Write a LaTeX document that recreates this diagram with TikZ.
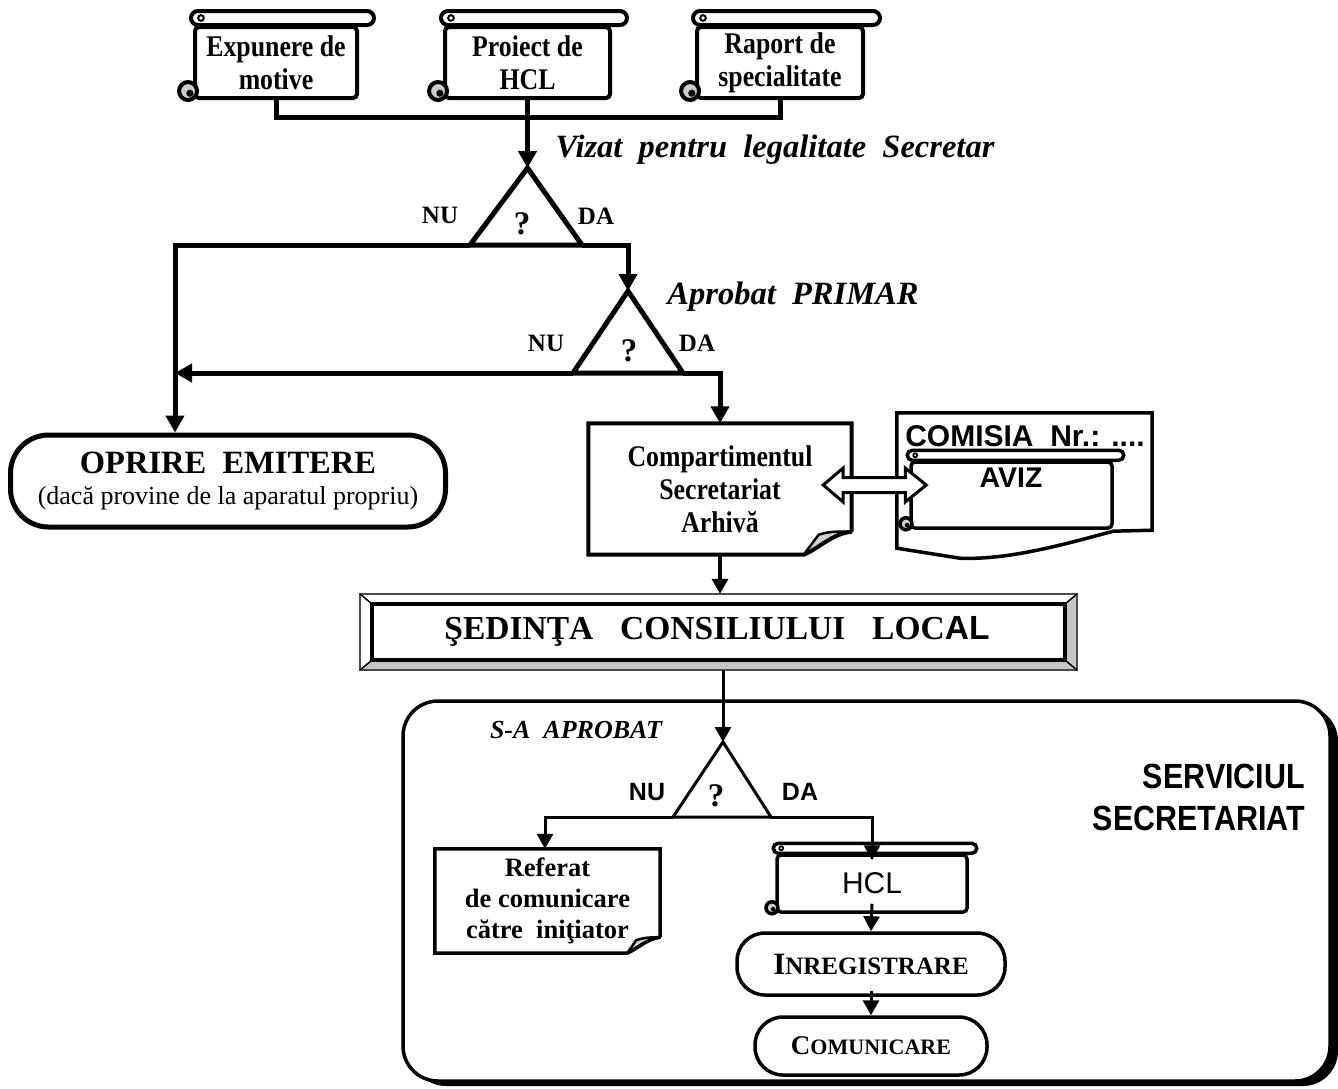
\documentclass[tikz,border=0pt]{standalone}
\usepackage{fontspec}
\setmainfont{Liberation Serif}
\newfontfamily\arialfont{Liberation Sans}
\newfontfamily\narrowserif{Liberation Serif}[FakeStretch=0.86]
\newfontfamily\narrowsans{Liberation Sans}[FakeStretch=0.87]
\usetikzlibrary{arrows.meta,calc,shadows}

% roll on top and curl at the lower left of a scroll-shaped node
% #1 node, #2 roll height, #3 roll radius, #4 roll overhang, #5 curl radius, #6 line width
\newcommand\scrollparts[6]{%
  \draw[line width=#6, fill=white, rounded corners=#3pt]
    ($(#1.north west)+(-2,0)$) rectangle ($(#1.north east)+(#4,-#2)$);
  \draw[line width=#6*0.5] ($(#1.north west)+(#3+1,-#2/2)$) circle[radius=#2*0.2];
  \draw[line width=#6, fill=gray!40] ($(#1.south west)+(-#5*0.55,-#5)$) circle[radius=#5];
  \fill ($(#1.south west)+(-#5*0.35,-#5*0.75)$) circle[radius=#5*0.4];
}

\begin{document}
\begin{tikzpicture}[x=1pt,y=-1pt,
  thickline/.style={line width=5pt, line join=miter},
  thinline/.style={line width=3pt, line join=miter},
  bigarrow/.style={-{Triangle[length=17pt,width=18pt]}},
  smallarrow/.style={-{Triangle[length=15pt,width=16pt]}},
  boldtxt/.style={font=\narrowserif\fontsize{30}{33}\selectfont\bfseries, align=center},
  scrollbody/.style={draw, line width=4pt, rounded corners=4pt, align=center, inner sep=2pt},
  decisionlbl/.style={font=\fontsize{25}{28}\selectfont\bfseries, inner sep=0pt},
  sanslbl/.style={font=\arialfont\fontsize{25}{28}\selectfont\bfseries, inner sep=0pt},
  note/.style={font=\fontsize{32.5}{34}\selectfont\bfseries\itshape, inner sep=0pt},
  qmark/.style={font=\fontsize{33}{34}\selectfont\bfseries, inner sep=0pt},
]
\useasboundingbox (0,0) rectangle (1338,1088);
\fill[white] (0,0) rectangle (1338,1088);

% ---------- frame of the secretariat service ----------
\node[draw, line width=3.5pt, fill=white, rounded corners=35pt,
      minimum width=927pt, minimum height=380pt, inner sep=0pt,
      drop shadow={shadow xshift=8pt, shadow yshift=-5pt, opacity=1, fill=black}]
      (serv) at (866.5,891) {};
\node[anchor=east, align=right, font=\narrowsans\fontsize{35}{42}\selectfont\bfseries, inner sep=0pt]
      (servt) at (1305,797) {SERVICIUL\\SECRETARIAT};

% ---------- input documents ----------
\node[scrollbody, boldtxt, minimum width=162pt, minimum height=71pt] (exp) at (276,62.5) {Expunere de\\motive};
\scrollparts{exp}{14}{7}{15}{9}{4pt}
\node[scrollbody, boldtxt, minimum width=165pt, minimum height=71pt] (proj) at (527.5,62.5) {Proiect de\\HCL};
\scrollparts{proj}{14}{7}{15}{9}{4pt}
\node[scrollbody, boldtxt, minimum width=166pt, minimum height=71pt] (rap) at (780,62.5) {Raport de\\specialitate};
\scrollparts{rap}{14}{7}{15}{9}{4pt}

\coordinate (j1) at (527.5,117);
\draw[thickline] (exp.south) -- (exp.south |- j1) -- (rap.south |- j1) -- (rap.south);

% ---------- first decision: legality ----------
\coordinate (t1a) at (527.5,168);
\coordinate (t1l) at (470,245);
\coordinate (t1r) at (582,245);
\draw[thickline, bigarrow] (proj.south) -- (t1a);
\draw[thickline] (t1a) -- (t1r) -- (t1l) -- cycle;
\node[qmark] (q1) at (522,224) {?};
\node[decisionlbl] (nu1) at (440,215) {NU};
\node[decisionlbl] (da1) at (596,216) {DA};
\node[note] (viz) at (775,150) {Vizat\ \ pentru\ \ legalitate\ \ Secretar};

% ---------- stop ----------
\node[draw, line width=5pt, rounded corners=38pt, minimum width=435pt, minimum height=92pt,
      align=center, inner sep=0pt] (opr) at (228,481)
      {{\fontsize{32.5}{34}\selectfont\bfseries OPRIRE\ \ EMITERE}\\[11pt]{\fontsize{26}{28}\selectfont(dacă provine de la aparatul propriu)}};

\coordinate (c1) at (175,245);
\coordinate (c2) at (628,245);
\draw[thickline, bigarrow] (t1l) -- (c1) -- (c1 |- opr.north);

% ---------- second decision: mayor ----------
\coordinate (t2a) at (628,291);
\coordinate (t2l) at (573,373);
\coordinate (t2r) at (683,373);
\draw[thickline, bigarrow] (t1r) -- (c2) -- (t2a);
\draw[thickline] (t2a) -- (t2r) -- (t2l) -- cycle;
\node[qmark] (q2) at (629,351) {?};
\node[decisionlbl] (nu2) at (546,343) {NU};
\node[decisionlbl] (da2) at (697,343) {DA};
\node[note] (apr) at (793,297) {Aprobat\ \ PRIMAR};
\draw[thickline, bigarrow] (t2l) -- (c1 |- t2l);

% ---------- secretariat compartment ----------
\node[boldtxt, minimum width=263pt, minimum height=131pt, inner sep=0pt] (comp) at (720,489)
      {Compartimentul\\Secretariat\\Arhivă};
\draw[thickline, bigarrow] (t2r) -- (comp.north |- t2r) -- (comp.north);
\draw[line width=2.5pt, fill=gray!35, line join=round]
   ($(comp.south east)+(-48,0)$) -- ($(comp.south east)+(-33,-20)$)
   .. controls +(12,-4) and +(-10,0) .. ($(comp.south east)+(0,-23)$)
   .. controls +(-20,2) and +(15,-6) .. ($(comp.south east)+(-48,0)$) -- cycle;
\draw[line width=4pt, line join=miter]
   ($(comp.south east)+(0,-23)$) -- (comp.north east) -- (comp.north west) -- (comp.south west)
   -- ($(comp.south east)+(-48,0)$) .. controls +(15,-6) and +(-20,2) .. ($(comp.south east)+(0,-23)$);

% ---------- committee ----------
\node[minimum width=255pt, minimum height=117pt, inner sep=0pt] (com) at (1024.5,471.5) {};
\draw[line width=3.5pt, line join=miter]
   (com.south east) -- (com.north east) -- (com.north west) -- ($(com.south west)+(0,18)$)
   -- ($(com.south west)+(63,28)$) .. controls +(50,2) and +(-45,12) .. ($(com.south east)+(-39,1)$) -- cycle;
\node[font=\arialfont\fontsize{30}{32}\selectfont\bfseries, inner sep=0pt] (comt) at (1025,436) {COMISIA\ \ Nr.: ....};
\node[scrollbody, line width=3.5pt, minimum width=201pt, minimum height=66pt] (aviz) at (1011.5,495) {};
\scrollparts{aviz}{10}{5}{10}{6}{3.5pt}
\node[font=\arialfont\fontsize{28.5}{30}\selectfont\bfseries, inner sep=0pt] (avizt) at (1011,478) {AVIZ};

% hollow two-way arrow between the compartment and the committee
\coordinate (dl) at ($(comp.east)+(-28.5,-4)$);
\coordinate (dr) at ($(aviz.west)+(17,-10)$);
\draw[line width=3pt, fill=white, line join=miter]
   (dl) -- ++(20,-17) -- ++(0,9.5) -- ($(dr)+(-21,-7.5)$) -- ++(0,-9.5) -- (dr)
   -- ++(-21,17) -- ++(0,-9.5) -- ($(dl)+(20,7.5)$) -- ++(0,9.5) -- cycle;

% ---------- council meeting banner ----------
\node[minimum width=717pt, minimum height=76pt, inner sep=0pt] (sed) at (718.5,632) {};
\fill[gray!45] (sed.south west) -- (sed.south east) -- (sed.north east)
   -- ($(sed.north east)+(-12,10)$) -- ($(sed.south east)+(-12,-10)$) -- ($(sed.south west)+(12,-10)$) -- cycle;
\draw[line width=2pt, black!70] (sed.south west) rectangle (sed.north east);
\draw[line width=1.5pt] (sed.north west) -- ++(12,10) (sed.north east) -- ++(-12,10)
   (sed.south west) -- ++(12,-10) (sed.south east) -- ++(-12,-10);
\draw[line width=3.5pt] ($(sed.north west)+(12,10)$) rectangle ($(sed.south east)+(-12,-10)$);
\node[font=\fontsize{33.5}{35}\selectfont\bfseries, inner sep=0pt] (sedt) at (717,631)
   {ŞEDINŢA\hspace{0.8em}CONSILIULUI\hspace{0.8em}LOC{\arialfont AL}};
\draw[line width=3.5pt, smallarrow] (comp.south) -- (comp.south |- sed.north);

% ---------- approval in council ----------
\coordinate (t3a) at (723,742);
\coordinate (t3l) at (673,817);
\coordinate (t3r) at (771,817);
\draw[thinline, smallarrow] (sed.south -| t3a) -- (t3a);
\draw[thinline] (t3a) -- (t3r) -- (t3l) -- cycle;
\node[qmark] (q3) at (716,796) {?};
\node[sanslbl] (nu3) at (647,792) {NU};
\node[sanslbl] (da3) at (800,792) {DA};
\node[font=\fontsize{26}{28}\selectfont\bfseries\itshape, inner sep=0pt] (sa) at (576,730) {S-A\ \ APROBAT};

% refusal note
\node[font=\fontsize{26.5}{31}\selectfont\bfseries, align=center, minimum width=225pt, minimum height=104pt, inner sep=0pt] (ref) at (547.5,901)
      {Referat\\de comunicare\\către\ \ iniţiator};
\draw[line width=2.5pt, fill=gray!35, line join=round]
   ($(ref.south east)+(-33,0)$) -- ($(ref.south east)+(-24,-13)$)
   .. controls +(9,-3) and +(-8,0) .. ($(ref.south east)+(0,-16)$)
   .. controls +(-14,2) and +(11,-5) .. ($(ref.south east)+(-33,0)$) -- cycle;
\draw[line width=3.5pt, line join=miter]
   ($(ref.south east)+(0,-16)$) -- (ref.north east) -- (ref.north west) -- (ref.south west)
   -- ($(ref.south east)+(-33,0)$) .. controls +(11,-5) and +(-14,2) .. ($(ref.south east)+(0,-16)$);

% decision record
\node[scrollbody, line width=3.5pt, minimum width=190pt, minimum height=57pt,
      font=\arialfont\fontsize{30}{32}\selectfont] (hcl) at (872,883.5) {HCL};
\scrollparts{hcl}{10}{5}{8}{6}{3.5pt}

\coordinate (c5) at (545,817);
\coordinate (c6) at (872,817);
\draw[thinline, smallarrow] (t3l) -- (c5) -- (c5 |- ref.north);
\draw[thinline, smallarrow] (t3r) -- (c6) -- ($(c6 |- hcl.north)+(0,7)$);

\node[draw, line width=3.5pt, rounded corners=28pt, minimum width=268pt, minimum height=62pt,
      inner sep=0pt, font=\bfseries] (inreg) at (871,964)
      {{\fontsize{31}{32}\selectfont I}{\fontsize{25}{26}\selectfont NREGISTRARE}};
\node[draw, line width=3.5pt, rounded corners=28pt, minimum width=232pt, minimum height=58pt,
      inner sep=0pt, font=\bfseries] (comun) at (871,1046)
      {{\fontsize{27}{30}\selectfont C}{\fontsize{22}{24}\selectfont OMUNICARE}};
\draw[thinline, smallarrow] ($(hcl.south)+(0,-10)$) -- (inreg.north);
\draw[thinline, smallarrow] ($(inreg.south)+(0,-6)$) -- (comun.north);

\end{tikzpicture}
\end{document}
